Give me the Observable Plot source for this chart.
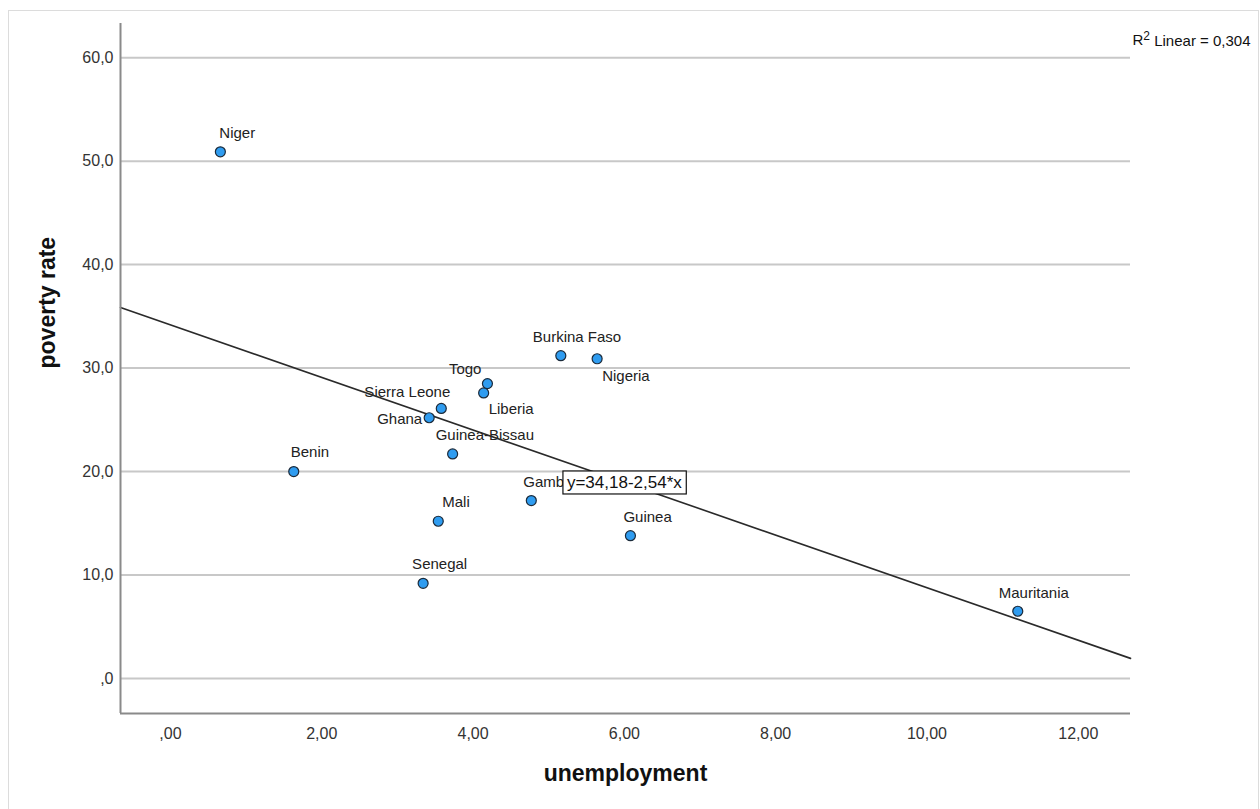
<!DOCTYPE html>
<html><head><meta charset="utf-8">
<script src="https://cdn.jsdelivr.net/npm/d3@7"></script>
<script src="https://cdn.jsdelivr.net/npm/@observablehq/plot@0.6"></script>
<style>
body{margin:0;background:#fff;}
#wrap{position:relative;width:1260px;height:809px;overflow:hidden;}
#border{position:absolute;left:8px;top:10px;width:1251px;height:830px;border:1px solid #dcdcdc;box-sizing:border-box;}
#chart{position:absolute;left:0;top:0;}
</style></head><body>
<div id="wrap"><div id="border"></div><div id="chart"></div></div>
<script>
// ---- data ----
const countries = ["Niger","Benin","Senegal","Ghana","Sierra Leone","Mali","Guinea-Bissau","Liberia","Togo","Gambia","Burkina Faso","Nigeria","Guinea","Mauritania"];
const unemployment = [0.66, 1.63, 3.34, 3.42, 3.58, 3.54, 3.73, 4.14, 4.19, 4.77, 5.16, 5.64, 6.08, 11.20];
const povertyRate  = [50.9, 20.0, 9.2, 25.2, 26.1, 15.2, 21.7, 27.6, 28.5, 17.2, 31.2, 30.9, 13.8, 6.5];
const xTicks = [0, 2, 4, 6, 8, 10, 12];
const yTicks = [0, 10, 20, 30, 40, 50, 60];
const intercept = 34.18;
const slope = -2.54;
const rSquared = 0.304;
const xTitle = "unemployment";
const yTitle = "poverty rate";

// ---- layout / style ----
const xDomain = [-0.66, 12.69];
const yDomain = [-3.38, 63.3];
const labelPlacement = {
  "Niger": ["start", -1, -19],
  "Benin": ["start", -3, -19],
  "Senegal": ["start", -11, -19],
  "Ghana": ["end", -7, 1],
  "Sierra Leone": ["end", 9, -16],
  "Mali": ["start", 4, -19],
  "Guinea-Bissau": ["start", -17, -19],
  "Liberia": ["start", 5, 16],
  "Togo": ["end", -6, -14],
  "Gambia": ["start", -8, -18],
  "Burkina Faso": ["start", -28, -18],
  "Nigeria": ["start", 5, 17],
  "Guinea": ["start", -7, -19],
  "Mauritania": ["start", -19, -18]
};
const eqAtX = 6.0;

const data = countries.map((c, i) => ({country: c, x: unemployment[i], y: povertyRate[i]}));
const comma = s => s.replace(".", ",");
const fmtX = d => comma(d3.format(".2f")(d)).replace(/^0,/, ",");
const fmtY = d => comma(d3.format(".1f")(d)).replace(/^0,/, ",");
const eqText = `y=${comma(intercept.toFixed(2))}-${comma(Math.abs(slope).toFixed(2))}*x`;
const r2Rest = ` Linear = ${comma(rSquared.toFixed(3))}`;
const r2Text = `R2${r2Rest}`;
const fitLine = xDomain.map(x => ({x, y: intercept + slope * x}));

const labelMarks = data.map(d => {
  const [anchor, dx, dy] = labelPlacement[d.country];
  return Plot.text([d], {x: "x", y: "y", text: "country", textAnchor: anchor, dx, dy, fontSize: 15, fill: "#222"});
});

const plot = Plot.plot({
  width: 1260, height: 809,
  marginLeft: 120, marginRight: 130, marginTop: 23, marginBottom: 96,
  style: {fontFamily: "Arial, 'Liberation Sans', sans-serif", fontSize: "16px", background: "transparent", color: "#333"},
  x: {domain: xDomain, ticks: xTicks, tickFormat: fmtX, label: null},
  y: {domain: yDomain, ticks: yTicks, tickFormat: fmtY, label: null},
  marks: [
    Plot.ruleY(yTicks, {stroke: "#c8c8c8", strokeWidth: 2}),
    Plot.axisX({ticks: xTicks, tickFormat: fmtX, tickSize: 0, tickPadding: 14, fontSize: 16, label: null}),
    Plot.axisY({ticks: yTicks, tickFormat: fmtY, tickSize: 0, tickPadding: 7, fontSize: 16, label: null}),
    ...labelMarks,
    Plot.line(fitLine, {x: "x", y: "y", stroke: "#2a2a2a", strokeWidth: 1.6}),
    Plot.dot(data, {x: "x", y: "y", r: 5, fill: "#2f9cf0", stroke: "#1b2a3a", strokeWidth: 1.2}),
    Plot.ruleX([xDomain[0]], {stroke: "#8a8a8a", strokeWidth: 2}),
    Plot.ruleY([yDomain[0]], {stroke: "#8a8a8a", strokeWidth: 2}),
    Plot.text([{x: eqAtX, y: intercept + slope * eqAtX}], {x: "x", y: "y", text: () => eqText, fontSize: 17, fill: "#111"}),
    Plot.text([r2Text], {frameAnchor: "top-right", textAnchor: "start", dx: 2, dy: 11, fontSize: 15, fill: "#111"}),
    Plot.text([xTitle], {frameAnchor: "bottom", dy: 67, fontSize: 23, fontWeight: "bold", fill: "#111"}),
    Plot.text([yTitle], {frameAnchor: "left", dx: -73, rotate: -90, fontSize: 23, fontWeight: "bold", fill: "#111"})
  ]
});
document.getElementById("chart").appendChild(plot);

const SVGNS = "http://www.w3.org/2000/svg";
for (const t of plot.querySelectorAll("text")) {
  // white box with black border behind the equation
  if (t.textContent === eqText) {
    const b = t.getBBox();
    const rect = document.createElementNS(SVGNS, "rect");
    rect.setAttribute("x", b.x - 4);
    rect.setAttribute("y", b.y - 2);
    rect.setAttribute("width", b.width + 8);
    rect.setAttribute("height", b.height + 4);
    rect.setAttribute("fill", "#fff");
    rect.setAttribute("stroke", "#111");
    rect.setAttribute("stroke-width", 1.2);
    const tr = t.getAttribute("transform");
    if (tr) rect.setAttribute("transform", tr);
    t.parentNode.insertBefore(rect, t);
  }
  // superscript 2 in the R² label
  if (t.textContent === r2Text) {
    t.textContent = "R";
    const sup = document.createElementNS(SVGNS, "tspan");
    sup.setAttribute("dy", "-0.4em");
    sup.setAttribute("font-size", "12");
    sup.textContent = "2";
    const rest = document.createElementNS(SVGNS, "tspan");
    rest.setAttribute("dy", "0.4em");
    rest.textContent = r2Rest;
    t.appendChild(sup);
    t.appendChild(rest);
  }
}
</script>
</body></html>
